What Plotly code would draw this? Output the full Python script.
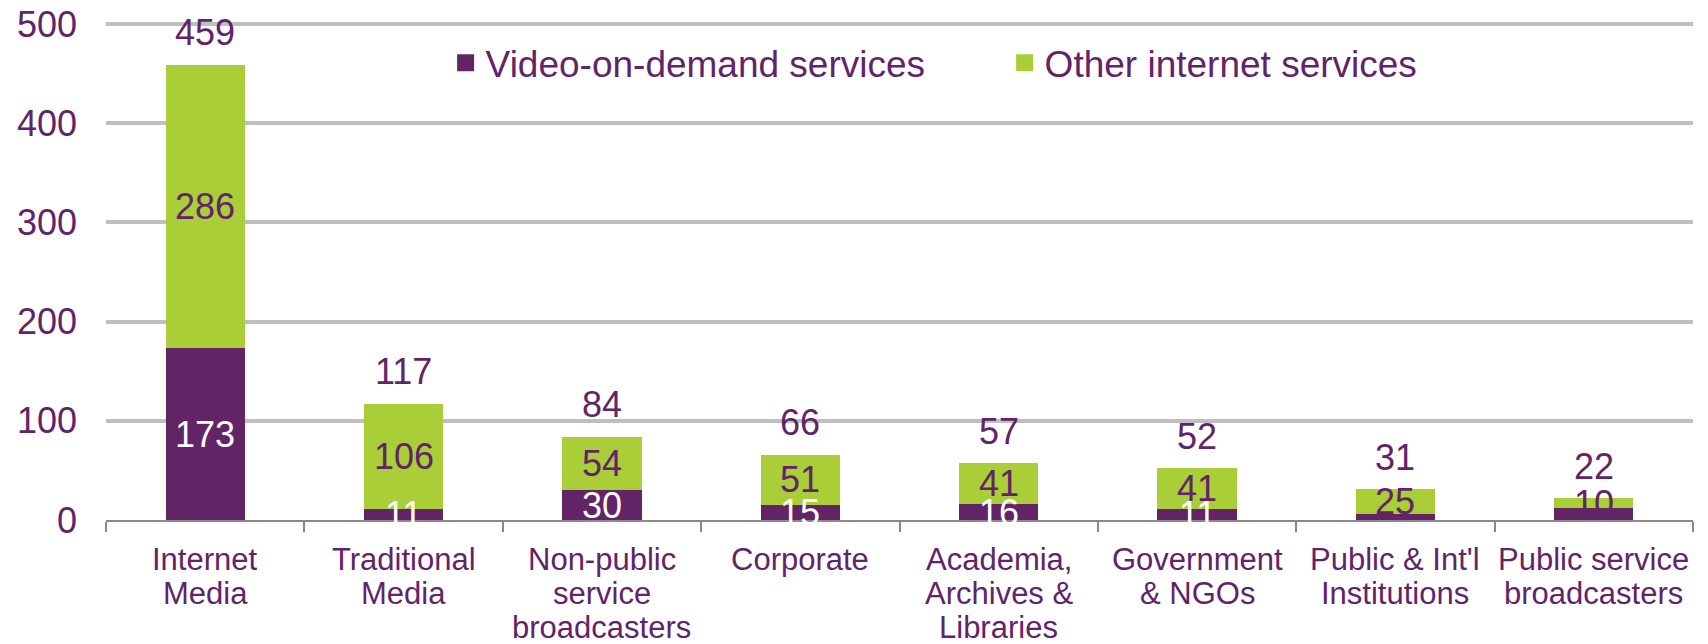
import plotly.graph_objects as go

# Organisations providing audiovisual services, by type
categories = [
    "Internet<br>Media",
    "Traditional<br>Media",
    "Non-public<br>service<br>broadcasters",
    "Corporate",
    "Academia,<br>Archives &<br>Libraries",
    "Government<br>& NGOs",
    "Public & Int'l<br>Institutions",
    "Public service<br>broadcasters",
]
vod_services = [173, 11, 30, 15, 16, 11, 6, 12]
other_internet = [286, 106, 54, 51, 41, 41, 25, 10]
# whether the video-on-demand segment carries a value label
vod_labelled = [True, True, True, True, True, True, False, False]

series_names = ["Video-on-demand services", "Other internet services"]
y_ticks = [0, 100, 200, 300, 400, 500]

PURPLE = "#632466"
GREEN = "#A9CE38"
TEXT = "#62236A"
FONT = "Liberation Sans, Arial, sans-serif"

fig = go.Figure()
for name, values, color in zip(series_names, [vod_services, other_internet], [PURPLE, GREEN]):
    fig.add_trace(go.Bar(
        name=name, x=categories, y=values, showlegend=False,
        marker=dict(color=color, line=dict(width=0)),
    ))
# legend entries with larger swatches (outlined legend squares)
for name, color in zip(series_names, [PURPLE, GREEN]):
    fig.add_trace(go.Bar(
        name=name, x=[None], y=[None], showlegend=True, hoverinfo="skip",
        marker=dict(color=color, line=dict(width=5, color=color)),
    ))

annotations = []
for cat, v, o, show_v in zip(categories, vod_services, other_internet, vod_labelled):
    if show_v:
        annotations.append(dict(x=cat, y=v / 2, text=str(v), showarrow=False,
                                font=dict(size=36, color="white", family=FONT),
                                yanchor="middle"))
    annotations.append(dict(x=cat, y=v + o / 2, text=str(o), showarrow=False,
                            font=dict(size=36, color=TEXT, family=FONT),
                            yanchor="middle"))
    annotations.append(dict(x=cat, y=v + o, text=str(v + o), showarrow=False,
                            font=dict(size=36, color=TEXT, family=FONT),
                            yanchor="middle", yshift=32))

# category names under the axis, one line per annotation for tighter leading
LINE_GAP = 34
for cat in categories:
    for k, line in enumerate(cat.split("<br>")):
        annotations.append(dict(x=cat, xref="x", y=0, yref="paper", text=line,
                                showarrow=False, yanchor="middle",
                                yshift=-39 - k * LINE_GAP,
                                font=dict(size=31, color=TEXT, family=FONT)))

fig.update_layout(
    width=1708, height=644,
    barmode="stack", bargap=0.6,
    paper_bgcolor="white", plot_bgcolor="white",
    margin=dict(l=106, r=15, t=19, b=124),
    font=dict(family=FONT, color=TEXT),
    showlegend=True,
    legend=dict(orientation="h", x=0.214, xanchor="left", y=0.912, yanchor="middle",
                font=dict(size=37, color=TEXT, family=FONT),
                bgcolor="rgba(0,0,0,0)", entrywidth=514, traceorder="normal"),
    annotations=annotations,
)
fig.update_xaxes(
    showline=True, linecolor="#898989", linewidth=2,
    ticks="outside", ticklen=10, tickwidth=2, tickcolor="#898989",
    tickson="boundaries", showgrid=False, showticklabels=False,
    automargin=False,
)
fig.update_yaxes(
    range=[0, 505], tickvals=y_ticks, showgrid=True, gridcolor="#BFBFBF",
    gridwidth=4, zeroline=False, showline=False, ticks="",
    ticklabelstandoff=28, automargin=False,
    tickfont=dict(size=36, color=TEXT, family=FONT),
)

fig.write_html("out.html")
